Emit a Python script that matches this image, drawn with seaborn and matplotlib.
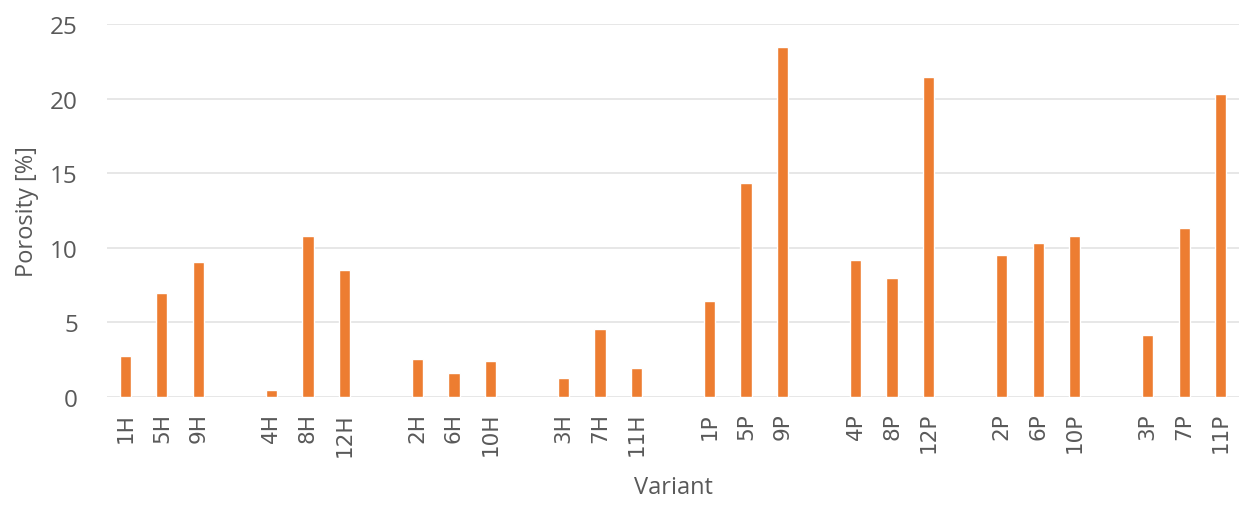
import matplotlib
matplotlib.use("Agg")
import matplotlib.pyplot as plt
import seaborn as sns
import pandas as pd

variants = ["1H", "5H", "9H", "4H", "8H", "12H", "2H", "6H", "10H", "3H", "7H", "11H",
            "1P", "5P", "9P", "4P", "8P", "12P", "2P", "6P", "10P", "3P", "7P", "11P"]
porosity = [2.7, 6.95, 9.05, 0.45, 10.75, 8.5, 2.55, 1.57, 2.42, 1.23, 4.52, 1.93,
            6.4, 14.36, 23.45, 9.2, 7.95, 21.45, 9.5, 10.32, 10.75, 4.16, 11.3, 20.33]
group_size = 3

# Category order with empty spacer slots between groups of three
order = []
spacer_count = 0
for i, v in enumerate(variants):
    if i > 0 and i % group_size == 0:
        spacer_count += 1
        order.append(" " * spacer_count)
    order.append(v)

df = pd.DataFrame({"Variant": variants, "Porosity": porosity})

sns.set_theme(style="white")
plt.rcParams["font.family"] = ["Open Sans", "DejaVu Sans"]

text_color = "#595959"
fig = plt.figure(figsize=(12.39, 5.06), dpi=100)
ax = fig.add_axes([0.0864, 0.214, 0.9136, 0.7366])

sns.barplot(data=df, x="Variant", y="Porosity", order=order, color="#ED7D31",
            saturation=1, width=0.31, ax=ax, zorder=3)

ax.set_ylim(0, 25)
ax.set_yticks([0, 5, 10, 15, 20, 25])
ax.yaxis.grid(True, color="#e3e3e3", linewidth=1.2, zorder=0)
ax.xaxis.grid(False)
for s in ax.spines.values():
    s.set_visible(False)

ax.set_xticks(range(len(order)))
ax.set_xticklabels([o if o.strip() else "" for o in order], rotation=90,
                   fontsize=15.5, color=text_color, family="DejaVu Sans")
ax.tick_params(axis="x", length=0, pad=11)
ax.tick_params(axis="y", length=0, pad=21, labelsize=17.5, labelcolor=text_color)

ax.set_xlabel("Variant", fontsize=17, color=text_color, labelpad=14)
ax.set_ylabel("Porosity [%]", fontsize=17, color=text_color, labelpad=8)

fig.savefig("out.png", dpi=100)
